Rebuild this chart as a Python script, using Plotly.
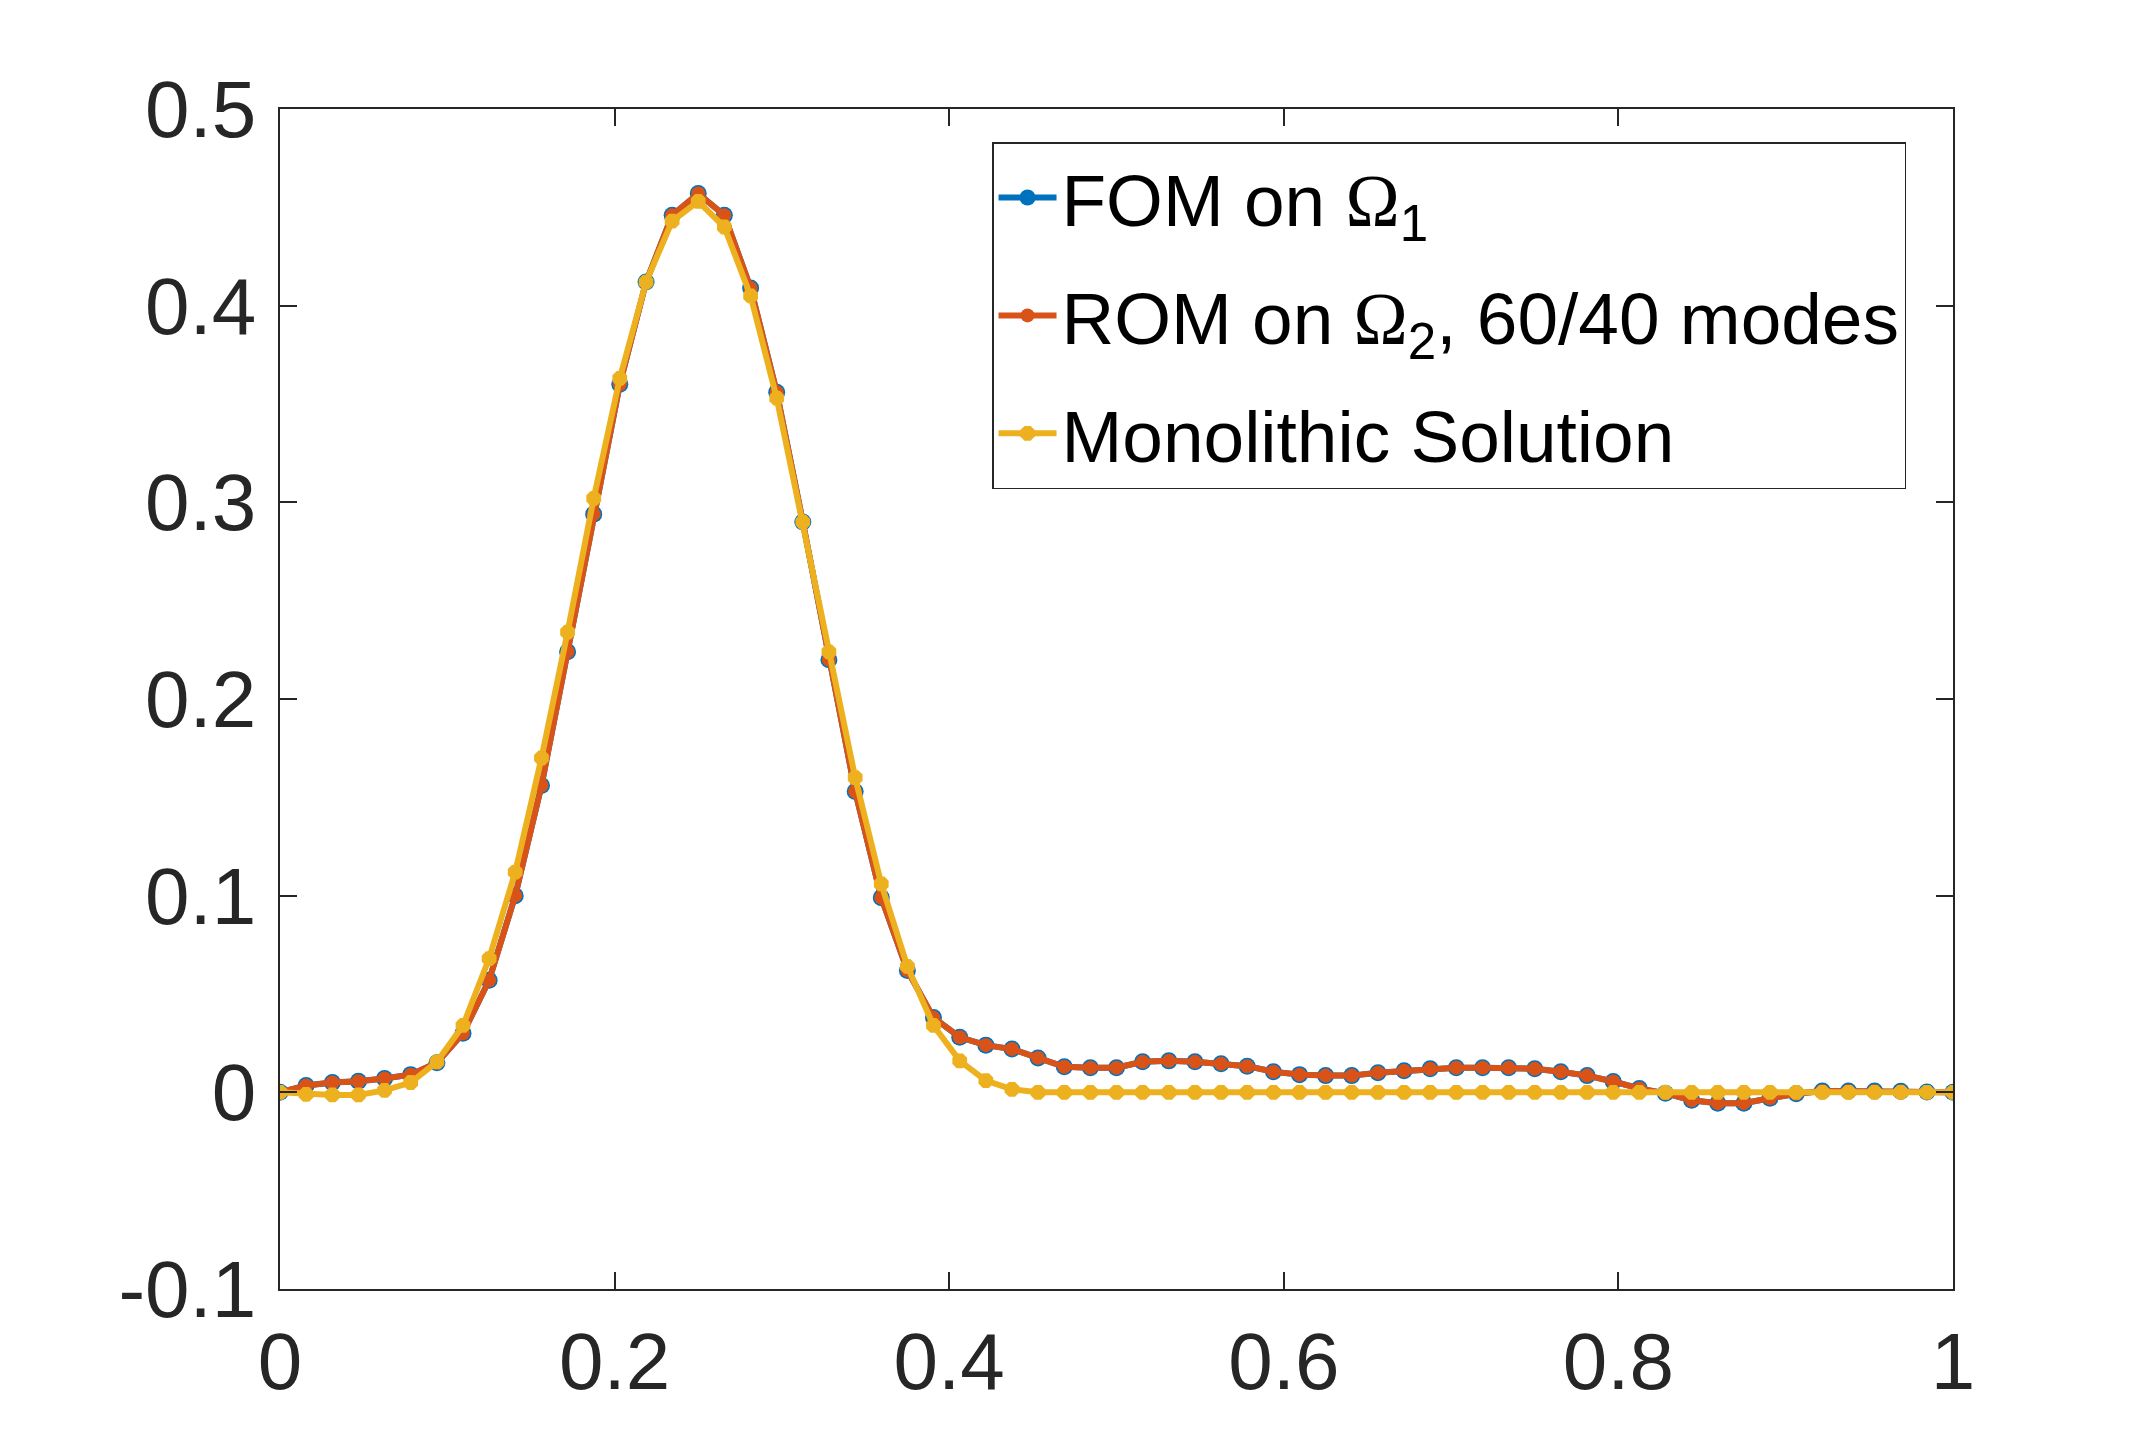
"""Coupled FOM/ROM solution compared with the monolithic solution."""

import plotly.graph_objects as go

x_values = [
    0.0000, 0.0156, 0.0313, 0.0469, 0.0625, 0.0781, 0.0938, 0.1094,
    0.1250, 0.1406, 0.1563, 0.1719, 0.1875, 0.2031, 0.2188, 0.2344,
    0.2500, 0.2656, 0.2813, 0.2969, 0.3125, 0.3281, 0.3438, 0.3594,
    0.3750, 0.3906, 0.4063, 0.4219, 0.4375, 0.4531, 0.4688, 0.4844,
    0.5000, 0.5156, 0.5313, 0.5469, 0.5625, 0.5781, 0.5938, 0.6094,
    0.6250, 0.6406, 0.6563, 0.6719, 0.6875, 0.7031, 0.7188, 0.7344,
    0.7500, 0.7656, 0.7813, 0.7969, 0.8125, 0.8281, 0.8438, 0.8594,
    0.8750, 0.8906, 0.9063, 0.9219, 0.9375, 0.9531, 0.9688, 0.9844,
    1.0000,
]

fom_values = [
    0.0, 0.0035, 0.005, 0.0056, 0.007, 0.009, 0.015, 0.030,
    0.057, 0.100, 0.156, 0.224, 0.294, 0.360, 0.412, 0.446,
    0.457, 0.446, 0.409, 0.356, 0.290, 0.220, 0.153, 0.099,
    0.062, 0.038, 0.028, 0.024, 0.022, 0.0175, 0.013, 0.0125,
    0.0125, 0.0155, 0.016, 0.0155, 0.0145, 0.0133, 0.0105, 0.009,
    0.0085, 0.0085, 0.010, 0.011, 0.012, 0.0125, 0.0125, 0.0125,
    0.012, 0.0105, 0.0085, 0.0055, 0.002, -0.0005, -0.004, -0.0055,
    -0.0055, -0.003, -0.0007, 0.0007, 0.0007, 0.0007, 0.0005, 0.0002,
    0.0,
]

# the ROM curve lies on top of the FOM curve everywhere
rom_values = list(fom_values)

mono_values = [
    0.0, -0.001, -0.0013, -0.0013, 0.001, 0.005, 0.0155, 0.034,
    0.068, 0.112, 0.170, 0.234, 0.302, 0.363, 0.412, 0.443,
    0.453, 0.440, 0.405, 0.353, 0.290, 0.224, 0.160, 0.106,
    0.064, 0.034, 0.016, 0.006, 0.0015, 0.0, 0.0, 0.0,
    0.0, 0.0, 0.0, 0.0, 0.0, 0.0, 0.0, 0.0,
    0.0, 0.0, 0.0, 0.0, 0.0, 0.0, 0.0, 0.0,
    0.0, 0.0, 0.0, 0.0, 0.0, 0.0, 0.0, 0.0,
    0.0, 0.0, 0.0, 0.0, 0.0, 0.0, 0.0, 0.0,
    0.0,
]

x_ticks = [0, 0.2, 0.4, 0.6, 0.8, 1]
x_tick_labels = ["0", "0.2", "0.4", "0.6", "0.8", "1"]
y_ticks = [-0.1, 0, 0.1, 0.2, 0.3, 0.4, 0.5]
y_tick_labels = ["-0.1", "0", "0.1", "0.2", "0.3", "0.4", "0.5"]

OMEGA = '<span style="font-family:Liberation Serif">Ω</span>'
INK = "#262626"
FONT = "Liberation Sans, Arial, sans-serif"

fig = go.Figure()
fig.add_trace(go.Scatter(
    x=x_values, y=fom_values, mode="lines+markers",
    name=f"FOM on {OMEGA}<sub>1</sub>", legendgroup="fom",
    line=dict(color="#0072BD", width=6),
    marker=dict(symbol="circle", size=17, color="#0072BD"),
))
fig.add_trace(go.Scatter(
    x=x_values, y=rom_values, mode="lines+markers",
    name=f"ROM on {OMEGA}<sub>2</sub>, 60/40 modes", legendgroup="rom",
    line=dict(color="#D95319", width=6),
    marker=dict(symbol="circle", size=14, color="#D95319"),
))
fig.add_trace(go.Scatter(
    x=x_values, y=mono_values, mode="lines+markers",
    name="Monolithic Solution", legendgroup="mono",
    line=dict(color="#EDB120", width=6),
    marker=dict(symbol="octagon", size=16, color="#EDB120"),
))

axis_style = dict(
    showline=True, linecolor=INK, linewidth=1.5, mirror="ticks",
    ticks="inside", ticklen=17, tickwidth=1.5, tickcolor=INK,
    showgrid=False, zeroline=False,
    tickfont=dict(family=FONT, size=80, color=INK),
)

# page body adds an 8 px offset, so margins are trimmed by that much
fig.update_layout(
    width=2156, height=1448,
    margin=dict(l=272, r=211, t=101, b=167),
    paper_bgcolor="white", plot_bgcolor="white",
    font=dict(family=FONT, color="black"),
    showlegend=True,
    legend=dict(
        x=0.4256, y=0.972, xanchor="left", yanchor="top",
        bgcolor="white", bordercolor=INK, borderwidth=1.5,
        font=dict(family=FONT, size=73, color="black"),
        itemwidth=58, tracegroupgap=20, traceorder="grouped",
    ),
)
fig.update_xaxes(
    range=[0, 1], tickvals=x_ticks, ticktext=x_tick_labels,
    ticklabelstandoff=2, **axis_style,
)
fig.update_yaxes(
    range=[-0.1, 0.5], tickvals=y_ticks, ticktext=y_tick_labels,
    ticklabelstandoff=6, **axis_style,
)

fig.write_html("out.html")
